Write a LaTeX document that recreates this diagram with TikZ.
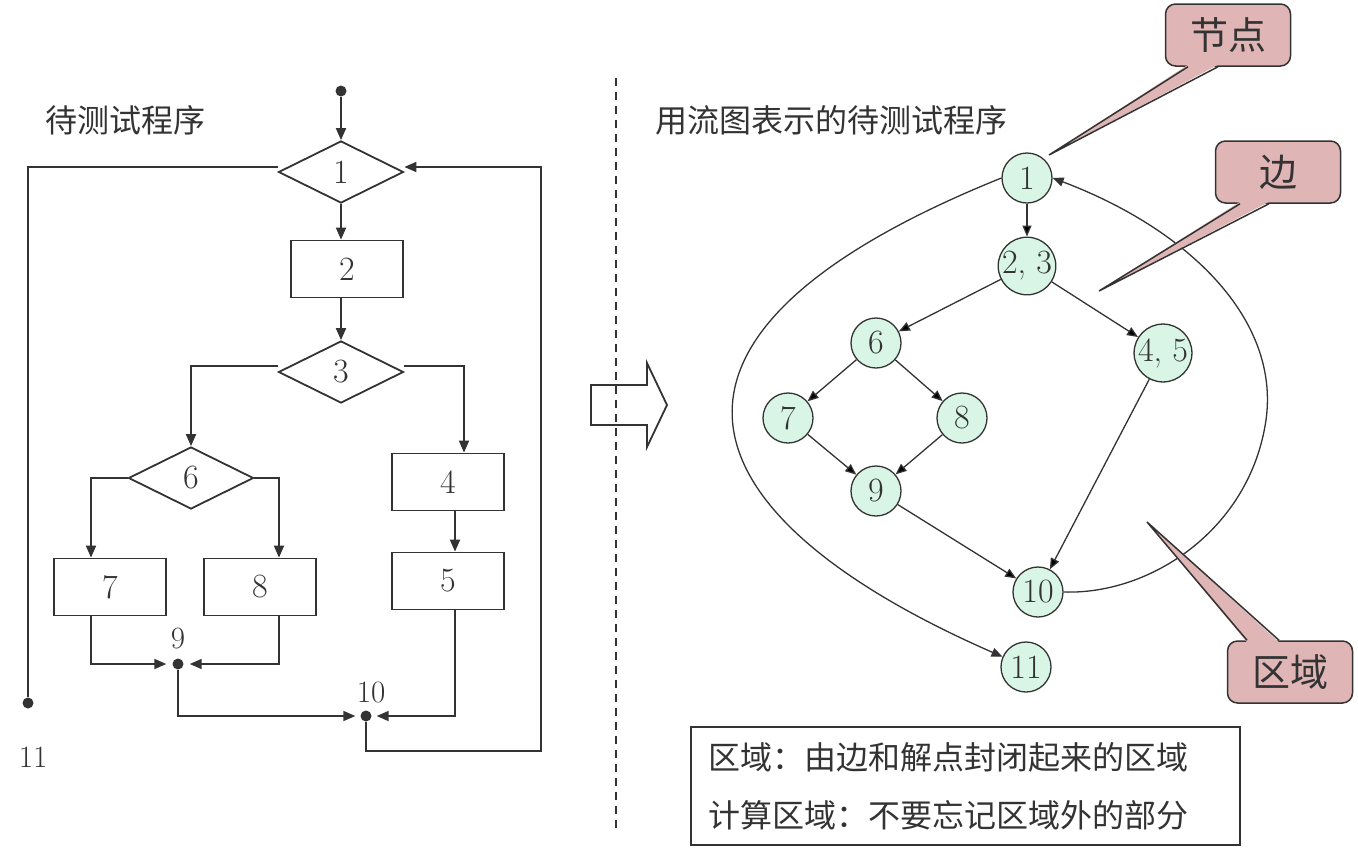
\documentclass[tikz,border=0pt]{standalone}
\usepackage{fontspec}
\newfontfamily\zhfont{Noto Sans CJK SC}
\usepackage{tikz}
\usetikzlibrary{arrows.meta, shapes.geometric, positioning}
\definecolor{inkgray}{HTML}{333333}
\definecolor{mintfill}{HTML}{D8F5E6}
\definecolor{rosefill}{HTML}{E0B5B5}

\begin{document}
\begin{tikzpicture}[x=1pt, y=-1pt,
        every node/.style={text=inkgray},
        wire/.style={draw=inkgray, line width=1.8pt},
        flow/.style={wire, -{Triangle[length=12pt,width=10pt]}},
        decision/.style={diamond, draw=inkgray, line width=1.8pt, aspect=2, minimum width=125pt, minimum height=62pt, inner sep=0pt, font=\fontsize{34}{34}\selectfont},
        process/.style={rectangle, draw=inkgray, line width=1.8pt, minimum width=112pt, minimum height=57pt, inner sep=0pt, font=\fontsize{34}{34}\selectfont},
        joint/.style={circle, fill=inkgray, inner sep=0pt, minimum size=11pt},
        numlabel/.style={font=\fontsize{31}{31}\selectfont, inner sep=0pt},
        state/.style={circle, draw=inkgray, fill=mintfill, line width=1.3pt, minimum size=50pt, inner sep=0pt, font=\fontsize{34}{34}\selectfont},
        edgeline/.style={draw=inkgray, line width=1.3pt, -{Triangle[length=11pt,width=9pt]}},
        callout/.style={rectangle, rounded corners=10pt, draw=inkgray, fill=rosefill, line width=1.5pt, minimum width=125pt, minimum height=62pt, font=\zhfont\fontsize{38}{38}\selectfont},
        title/.style={font=\zhfont\fontsize{32}{32}\selectfont, inner sep=0pt, anchor=west}]
    \useasboundingbox (0,0) rectangle (1358,855);

    \node[title] (t_left)  at (45,120)  {待测试程序};
    \node[title] (t_right) at (655,120) {用流图表示的待测试程序};

    \node[joint]    (p_0)  at (341,91)  {};
    \node[decision] (d_1)  at (341,172) {1};
    \node[process]  (b_2)  at (347,269) {2};
    \node[decision] (d_3)  at (341,372) {3};
    \node[decision] (d_6)  at (191,478) {6};
    \node[process]  (b_4)  at (448,482) {4};
    \node[process]  (b_5)  at (448,581) {5};
    \node[process]  (b_7)  at (110,587) {7};
    \node[process]  (b_8)  at (260,587) {8};
    \node[joint]    (p_9)  at (178,664) {};
    \node[joint]    (p_10) at (366,716) {};
    \node[joint]    (p_11) at (28,703)  {};
    \node[numlabel] (l_9)  [above=9pt of p_9]  {9};
    \node[numlabel] (l_10) at (371,692) {10};
    \node[numlabel] (l_11) at (33,757)  {11};
    \coordinate (r_b) at (541,751);

    \draw[flow] (p_0) -- (d_1.north);
    \draw[flow] (d_1.south) -- (d_1.south |- b_2.north);
    \draw[flow] (d_1.south |- b_2.south) -- (d_3.north);
    \draw[flow] ([yshift=6pt]d_3.west) -| (d_6.north);
    \draw[flow] ([yshift=6pt]d_3.east) -| ([xshift=16pt]b_4.north);
    \draw[flow] (d_6.west) -| ([xshift=-19pt]b_7.north);
    \draw[flow] (d_6.east) -| ([xshift=19pt]b_8.north);
    \draw[flow] ([xshift=7pt]b_4.south) -- ([xshift=7pt]b_5.north);
    \draw[flow, shorten >=6pt] ([xshift=-19pt]b_7.south) |- (p_9);
    \draw[flow, shorten >=6pt] ([xshift=19pt]b_8.south) |- (p_9);
    \draw[flow, shorten >=5pt] (p_9) |- (p_10);
    \draw[flow, shorten >=5pt] ([xshift=7pt]b_5.south) |- (p_10);
    \draw[flow] (p_10) |- (r_b) |- ([yshift=5pt]d_1.east);
    \draw[wire] ([yshift=5pt]d_1.west) -| (p_11);

    \coordinate (s_top) at (616,78);
    \coordinate (s_bot) at (616,830);
    \draw[wire, line width=1.5pt, dash pattern=on 8pt off 6pt] (s_top) -- (s_bot);
    \draw[wire] (591,385) -- (647,385) -- (647,363) -- (667,405) -- (647,447) -- (647,425) -- (591,425) -- cycle;

    \node[state] (n_1)  at (1027,178) {1};
    \node[state] (n_23) at (1027,266) {2, 3};
    \node[state] (n_6)  at (876,343)  {6};
    \node[state] (n_45) at (1163,353) {4, 5};
    \node[state] (n_7)  at (788,418)  {7};
    \node[state] (n_8)  at (962,418)  {8};
    \node[state] (n_9)  at (876,491)  {9};
    \node[state] (n_10) at (1038,592) {10};
    \node[state] (n_11) at (1026,667) {11};

    \path[edgeline] (n_1) edge (n_23)
        (n_23) edge (n_6) edge (n_45)
        (n_6) edge (n_7) edge (n_8)
        (n_7) edge (n_9)
        (n_8) edge (n_9)
        (n_9) edge (n_10)
        (n_45) edge (n_10);
    \draw[edgeline] (n_10.east) .. controls (1150,595) and (1250,530) .. (1266,420)
        .. controls (1280,320) and (1190,230) .. (n_1.east);
    \draw[edgeline] (n_1.west) .. controls (600,340) and (690,520) .. (n_11);

    \node[callout] (c_node) at (1228,35)  {节点};
    \node[callout] (c_edge) at (1278,172) {边};
    \node[callout] (c_area) at (1290,672) {区域};
    \coordinate (k_node) at (1049,155);
    \coordinate (k_edge) at (1099,291);
    \coordinate (k_area) at (1147,522);
    \fill[rosefill] ([xshift=-40pt,yshift=2pt]c_node.south) -- (k_node) -- ([xshift=-10pt,yshift=2pt]c_node.south) -- cycle;
    \draw[inkgray, line width=1.5pt] ([xshift=-40pt]c_node.south) -- (k_node) -- ([xshift=-10pt]c_node.south);
    \fill[rosefill] ([xshift=-38pt,yshift=2pt]c_edge.south) -- (k_edge) -- ([xshift=-9pt,yshift=2pt]c_edge.south) -- cycle;
    \draw[inkgray, line width=1.5pt] ([xshift=-38pt]c_edge.south) -- (k_edge) -- ([xshift=-9pt]c_edge.south);
    \fill[rosefill] ([xshift=-43pt,yshift=-2pt]c_area.north) -- (k_area) -- ([xshift=-11pt,yshift=-2pt]c_area.north) -- cycle;
    \draw[inkgray, line width=1.5pt] ([xshift=-43pt]c_area.north) -- (k_area) -- ([xshift=-11pt]c_area.north);

    \node[draw=inkgray, line width=1.5pt, text width=515pt, inner xsep=17pt, minimum height=118pt, align=left,
        font=\zhfont\fontsize{32}{58}\selectfont] (legend) at (965.5,786)
        {区域：由边和解点封闭起来的区域\\计算区域：不要忘记区域外的部分};
\end{tikzpicture}
\end{document}
